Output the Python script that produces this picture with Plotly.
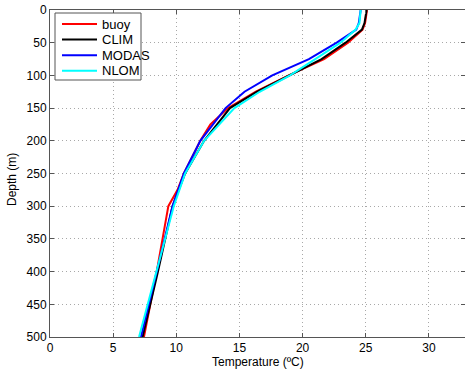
import plotly.graph_objects as go

# Data
depth_std = [0, 10, 20, 30, 50, 75, 100, 125, 150, 200, 250, 300, 400, 500]
depth_buoy = [0, 10, 20, 30, 50, 75, 100, 125, 150, 175, 200, 250, 275, 300, 400, 500]

temp_buoy = [25.1, 25.05, 24.95, 24.75, 23.6, 21.7, 18.9, 16.3, 14.1, 12.7, 11.9, 10.6, 10.1, 9.37, 8.45, 7.44]
temp_clim = [25.07, 25.0, 24.9, 24.7, 23.4, 21.5, 18.9, 16.4, 14.25, 12.2, 10.7, 9.7, 8.55, 7.33]
temp_modas = [24.6, 24.55, 24.45, 24.25, 22.7, 20.5, 17.6, 15.4, 13.9, 11.9, 10.6, 9.7, 8.45, 7.2]
temp_nlom = [24.6, 24.55, 24.5, 24.2, 23.0, 21.0, 19.0, 16.6, 14.6, 12.2, 10.7, 9.8, 8.4, 7.05]

series_names = ["buoy", "CLIM", "MODAS", "NLOM"]
series_temps = [temp_buoy, temp_clim, temp_modas, temp_nlom]
series_depths = [depth_buoy, depth_std, depth_std, depth_std]
series_colors = ["#ff0000", "#000000", "#0000ff", "#00ffff"]

x_ticks = [0, 5, 10, 15, 20, 25, 30]
y_ticks = [0, 50, 100, 150, 200, 250, 300, 350, 400, 450, 500]
x_title = "Temperature (ºC)"
y_title = "Depth (m)"

W, H = 465, 369
ML, MR, MT, MB = 50, 0, 10, 32
PW, PH = W - ML - MR, H - MT - MB


def px(xp):
    return (xp - ML) / PW


def py(yp):
    return (H - MB - yp) / PH


fig = go.Figure()
for name, t, d, c in zip(series_names, series_temps, series_depths, series_colors):
    fig.add_trace(go.Scatter(x=t, y=d, mode="lines", name=name,
                             line=dict(color=c, width=2), showlegend=False))

FONT = "Liberation Sans, Arial, Helvetica, sans-serif"
axis_common = dict(
    showline=True, linecolor="#555555", linewidth=1, mirror="ticks",
    ticks="inside", ticklen=4, tickcolor="#555555",
    showgrid=True, gridcolor="#a8a8a8", griddash="1px,3px", gridwidth=1,
    zeroline=False, automargin=False,
    tickfont=dict(family=FONT, size=12, color="#000000"),
)

# Legend box drawn as shapes + text (MATLAB-style compact legend)
shapes = [dict(type="rect", xref="paper", yref="paper",
               x0=px(55), x1=px(141), y0=py(80), y1=py(13),
               line=dict(color="#555555", width=1), fillcolor="white", layer="above")]
annotations = []
row_y = [24, 39.6, 55.2, 70.8]
for name, c, ry in zip(series_names, series_colors, row_y):
    shapes.append(dict(type="line", xref="paper", yref="paper",
                       x0=px(62), x1=px(97), y0=py(ry), y1=py(ry),
                       line=dict(color=c, width=2), layer="above"))
    annotations.append(dict(text=name, xref="paper", yref="paper",
                            x=px(100), y=py(ry), xanchor="left", yanchor="middle",
                            showarrow=False,
                            font=dict(family=FONT, size=13, color="#000000")))

annotations += [
    dict(text=x_title, xref="paper", yref="paper", x=px(258), y=py(362),
         xanchor="center", yanchor="middle", showarrow=False,
         font=dict(family=FONT, size=12, color="#000000")),
    dict(text=y_title, xref="paper", yref="paper", x=px(12), y=py(180),
         xanchor="center", yanchor="middle", showarrow=False, textangle=-90,
         font=dict(family=FONT, size=12, color="#000000")),
]

fig.update_layout(
    width=W, height=H,
    margin=dict(l=ML, r=MR, t=MT, b=MB),
    paper_bgcolor="white", plot_bgcolor="white",
    font=dict(family=FONT, size=12, color="#000000"),
    showlegend=False,
    xaxis=dict(range=[0, 32.86], tickvals=x_ticks, ticklabelstandoff=0,
               **axis_common),
    yaxis=dict(range=[500, 0], tickvals=y_ticks, **axis_common),
    shapes=shapes,
    annotations=annotations,
)

fig.write_html(
    "out.html",
    config={"displayModeBar": False},
    post_script="document.body.style.margin='0';document.body.style.overflow='hidden';",
)
